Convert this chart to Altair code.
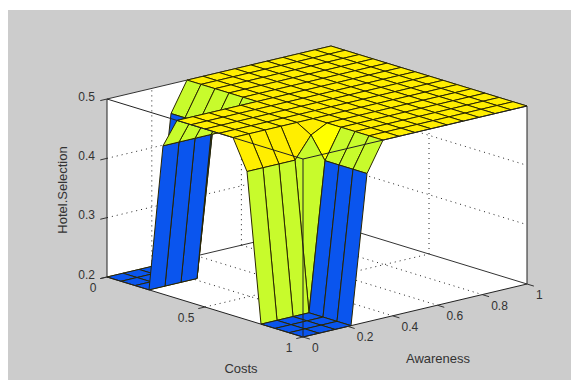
import altair as alt
import pandas as pd

# Surface heights: rows are Costs index 0..14, columns Awareness index 0..14
Z = [
    [.2, .2, .2, .2, .45, .5, .5, .5, .5, .5, .5, .5, .5, .5, .5],
    [.2, .2, .2, .2, .45, .5, .5, .5, .5, .5, .5, .5, .5, .5, .5],
    [.2, .2, .2, .2, .45, .5, .5, .5, .5, .5, .5, .5, .5, .5, .5],
    [.2, .2, .2, .2, .45, .5, .5, .5, .5, .5, .5, .5, .5, .5, .5],
    [.45, .45, .45, .45, .45, .5, .5, .5, .5, .5, .5, .5, .5, .5, .5],
    [.5, .5, .5, .5, .5, .5, .5, .5, .5, .5, .5, .5, .5, .5, .5],
    [.5, .5, .5, .5, .5, .5, .5, .5, .5, .5, .5, .5, .5, .5, .5],
    [.5, .5, .5, .5, .5, .5, .5, .5, .5, .5, .5, .5, .5, .5, .5],
    [.5, .5, .5, .5, .5, .5, .5, .5, .5, .5, .5, .5, .5, .5, .5],
    [.5, .5, .5, .5, .5, .5, .5, .5, .5, .5, .5, .5, .5, .5, .5],
    [.45, .45, .45, .45, .486, .5, .5, .5, .5, .5, .5, .5, .5, .5, .5],
    [.2, .2, .2, .2, .45, .5, .5, .5, .5, .5, .5, .5, .5, .5, .5],
    [.2, .2, .2, .2, .45, .5, .5, .5, .5, .5, .5, .5, .5, .5, .5],
    [.2, .2, .2, .2, .45, .5, .5, .5, .5, .5, .5, .5, .5, .5, .5],
    [.2, .2, .2, .2, .45, .5, .5, .5, .5, .5, .5, .5, .5, .5, .5],
]
Z_TICKS = [0.2, 0.3, 0.4, 0.5]
COST_TICKS = [0, 0.5, 1]
AWARE_TICKS = [0, 0.2, 0.4, 0.6, 0.8, 1]
COLORS = {0.2: "#0a55ee", 0.45: "#c8fb2c", 0.486: "#ffff00", 0.5: "#ffee00"}


def proj(c, a, z):
    """Orthographic view of (Costs, Awareness, Hotel.Selection) onto the page."""
    return (107 + 196 * c + 224 * a, 277 + 60 * c - 53 * a - (z - 0.2) * 593.3)


N = len(Z)
quads = []
for i in range(N - 1):
    for j in range(N - 2, -1, -1):
        for k, (di, dj) in enumerate([(0, 0), (1, 0), (1, 1), (0, 1), (0, 0)]):
            px, py = proj((i + di) / (N - 1), (j + dj) / (N - 1), Z[i + di][j + dj])
            quads.append(dict(q=i * 100 + j, k=k, px=px, py=py, fill=COLORS[Z[i][j]]))
quads = pd.DataFrame(quads)


def seg(p, q):
    return dict(x1=p[0], y1=p[1], x2=q[0], y2=q[1])


back, grid, front, ticks = [], [], [], []
for a, b in [((0, 0, .2), (0, 1, .2)), ((0, 1, .2), (1, 1, .2)),
             ((0, 0, .5), (0, 1, .5)), ((0, 1, .5), (1, 1, .5))]:
    back.append(seg(proj(*a), proj(*b)))
for a, b in [((0, 0, .2), (1, 0, .2)), ((1, 0, .2), (1, 1, .2)), ((0, 0, .2), (0, 0, .5)),
             ((1, 1, .2), (1, 1, .5)), ((1, 0, .2), (1, 0, .5)),
             ((0, 0, .5), (1, 0, .5)), ((1, 0, .5), (1, 1, .5))]:
    front.append(seg(proj(*a), proj(*b)))
for v in AWARE_TICKS[1:-1]:
    grid.append(seg(proj(0, v, .2), proj(1, v, .2)))
    grid.append(seg(proj(0, v, .2), proj(0, v, .5)))
for v in COST_TICKS[1:-1]:
    grid.append(seg(proj(v, 0, .2), proj(v, 1, .2)))
    grid.append(seg(proj(v, 1, .2), proj(v, 1, .5)))
for v in Z_TICKS[1:-1]:
    grid.append(seg(proj(0, 0, v), proj(0, 1, v)))
    grid.append(seg(proj(0, 1, v), proj(1, 1, v)))
for v in Z_TICKS:
    ticks.append(seg(proj(0, 0, v), proj(0, -.03, v)))
for v in COST_TICKS:
    ticks.append(seg(proj(v, 0, .2), proj(v, -.03, .2)))
for v in AWARE_TICKS:
    ticks.append(seg(proj(1, v, .2), proj(1.035, v, .2)))

z_lab = pd.DataFrame([dict(t=f"{v:g}", px=proj(0, 0, v)[0] - 12, py=proj(0, 0, v)[1] - 2.5) for v in Z_TICKS])
c_lab = pd.DataFrame([dict(t=f"{v:g}", px=proj(v, 0, .2)[0] - 10.5, py=proj(v, 0, .2)[1] + 10.5) for v in COST_TICKS])
a_lab = pd.DataFrame([dict(t=f"{v:g}", px=proj(1, v, .2)[0] + 9, py=proj(1, v, .2)[1] + 11) for v in AWARE_TICKS])

VIEW_W, VIEW_H = 563, 372
X_DOM = [8, 8 + VIEW_W]
Y_DOM = [8 + VIEW_H, 8]
X = alt.X("px:Q", scale=alt.Scale(domain=X_DOM, nice=False, zero=False), axis=None)
Y = alt.Y("py:Q", scale=alt.Scale(domain=Y_DOM, nice=False, zero=False), axis=None)
X1 = alt.X("x1:Q", scale=alt.Scale(domain=X_DOM, nice=False, zero=False), axis=None)
Y1 = alt.Y("y1:Q", scale=alt.Scale(domain=Y_DOM, nice=False, zero=False), axis=None)


def rules(rows, **kw):
    return alt.Chart(pd.DataFrame(rows)).mark_rule(**kw).encode(x=X1, y=Y1, x2="x2:Q", y2="y2:Q")


def labels(df, align):
    return alt.Chart(df).mark_text(align=align, baseline="middle", font="Liberation Sans",
                                   fontSize=12, color="#333333").encode(x=X, y=Y, text="t:N")


bg = alt.Chart(pd.DataFrame([dict(x1=8, y1=10, x2=8 + VIEW_W, y2=8 + VIEW_H)])).mark_rect(color="#cccccc").encode(
    x=X1, y=Y1, x2="x2:Q", y2="y2:Q")

corners = [(0, 0, .2), (1, 0, .2), (1, 1, .2), (1, 1, .5), (0, 1, .5), (0, 0, .5), (0, 0, .2)]
wall = pd.DataFrame([dict(k=k, px=proj(*p)[0], py=proj(*p)[1]) for k, p in enumerate(corners)])
wall_mark = alt.Chart(wall).mark_line(fill="white", stroke=None).encode(x=X, y=Y, order="k:Q")

surface = alt.Chart(quads).mark_line(stroke="#2a2600", strokeWidth=1, strokeJoin="round").encode(
    x=X, y=Y, order="k:Q", detail="q:N", fill=alt.Fill("fill:N", scale=None))

titles = [
    alt.Chart(pd.DataFrame([dict(t="Costs", px=241, py=369)])).mark_text(
        font="Liberation Sans", fontSize=13, color="#333333").encode(x=X, y=Y, text="t:N"),
    alt.Chart(pd.DataFrame([dict(t="Awareness", px=438, py=359)])).mark_text(
        font="Liberation Sans", fontSize=13, color="#333333").encode(x=X, y=Y, text="t:N"),
    alt.Chart(pd.DataFrame([dict(t="Hotel.Selection", px=63, py=190)])).mark_text(
        font="Liberation Sans", fontSize=13, color="#333333", angle=270).encode(x=X, y=Y, text="t:N"),
]

chart = alt.layer(
    bg, wall_mark,
    rules(grid, color="#222222", strokeWidth=1, strokeDash=[1, 4]),
    rules(back, color="#333333", strokeWidth=1),
    surface,
    rules(front, color="#222222", strokeWidth=1),
    rules(ticks, color="#333333", strokeWidth=1),
    labels(z_lab, "right"), labels(c_lab, "right"), labels(a_lab, "left"),
    *titles,
).properties(width=VIEW_W, height=VIEW_H, padding=0,
             autosize=alt.AutoSizeParams(type="none")).configure_view(stroke=None)

chart.save("out.html", embed_options={"renderer": "svg", "actions": False})
